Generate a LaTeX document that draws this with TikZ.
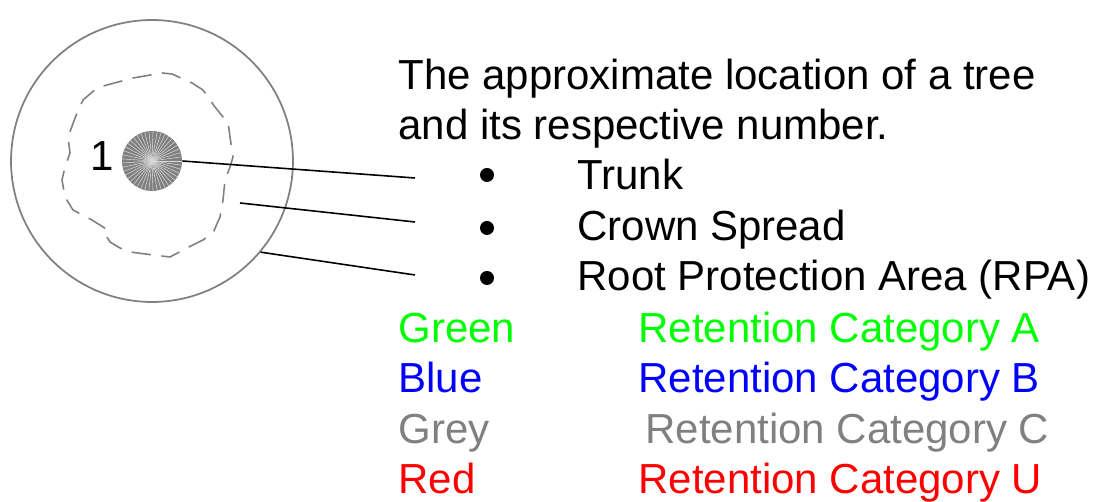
\documentclass[tikz,border=0pt]{standalone}
\usepackage{fontspec}
\setmainfont{Liberation Sans}
\usepackage{tikz}
\usetikzlibrary{positioning}
\usepackage{xcolor}
\definecolor{catA}{RGB}{0,255,0}
\definecolor{catB}{RGB}{0,0,255}
\definecolor{catC}{RGB}{128,128,128}
\definecolor{catU}{RGB}{255,0,0}
\tikzset{
  keytext/.style={anchor=base west, inner sep=0pt, font=\fontsize{23.9}{28}\selectfont},
  dot/.style={circle, fill=black, inner sep=0pt, minimum size=0.28cm},
  leader/.style={black, line width=0.9pt}
}
\begin{document}
\begin{tikzpicture}[x=0.02cm, y=0.02cm]
\useasboundingbox (0,0) rectangle (1109,502);

% tree symbol
\node[circle, draw=catC, line width=1pt, minimum size=5.64cm, inner sep=0pt] (rpa) at (152,341) {};
\node[circle, fill=catC, minimum size=1.2cm, inner sep=0pt] (trunk) at (152,341) {};
\foreach \a in {0,8,...,352}
    \draw[white!70!catC, line width=0.3pt] (trunk.center) -- (trunk.\a);
\node[keytext] (num) at (90,331) {1};

% crown spread
\draw[catC, line width=0.9pt, dash pattern=on 11pt off 6pt]
  (162,429) -- (172,428) -- (192,419) -- (203,412) -- (215,395) -- (223,385)
  -- (228,380) -- (230,365) -- (233,345) -- (230,335) -- (225,322) -- (223,302)
  -- (220,285) -- (213,269) -- (203,262) -- (187,254) -- (170,245) -- (153,247)
  -- (130,250) -- (120,254) -- (110,260) -- (107,265) -- (108,272) -- (103,275)
  -- (92,282) -- (73,292) -- (65,305) -- (62,322) -- (65,335) -- (70,349)
  -- (68,365) -- (77,389) -- (83,402) -- (97,414) -- (107,417) -- (133,424) -- cycle;

% key
\node[keytext] (title1) at (398,412) {The approximate location of a tree};
\node[keytext] (title2) at (398,362) {and its respective number.};

\node[dot] (b1) at (487,327) {};
\node[dot] (b2) at (487,274) {};
\node[dot] (b3) at (487,224) {};
\node[keytext] (trunklbl) at (577,312) {Trunk};
\node[keytext] (crownlbl) at (577,261) {Crown Spread};
\node[keytext] (rpalbl) at (577,211) {Root Protection Area (RPA)};

% leader lines
\coordinate (e1) at (415,324);
\coordinate (e2) at (415,280);
\coordinate (e3) at (415,227);
\coordinate (crownpt) at (240,299);
\draw[leader] (trunk.east) -- (e1);
\draw[leader] (crownpt) -- (e2);
\draw[leader] (rpa.-40) -- (e3);

% retention categories
\node[keytext, catA] (cola) at (398,159) {Green};
\node[keytext, catB] (colb) at (398,109) {Blue};
\node[keytext, catC] (colc) at (398,58) {Grey};
\node[keytext, catU] (colu) at (398,8) {Red};
\node[keytext, catA] (reta) at (638,159) {Retention Category A};
\node[keytext, catB] (retb) at (638,109) {Retention Category B};
\node[keytext, catC] (retc) at (645,58) {Retention Category C};
\node[keytext, catU] (retu) at (638,8) {Retention Category U};
\end{tikzpicture}
\end{document}
